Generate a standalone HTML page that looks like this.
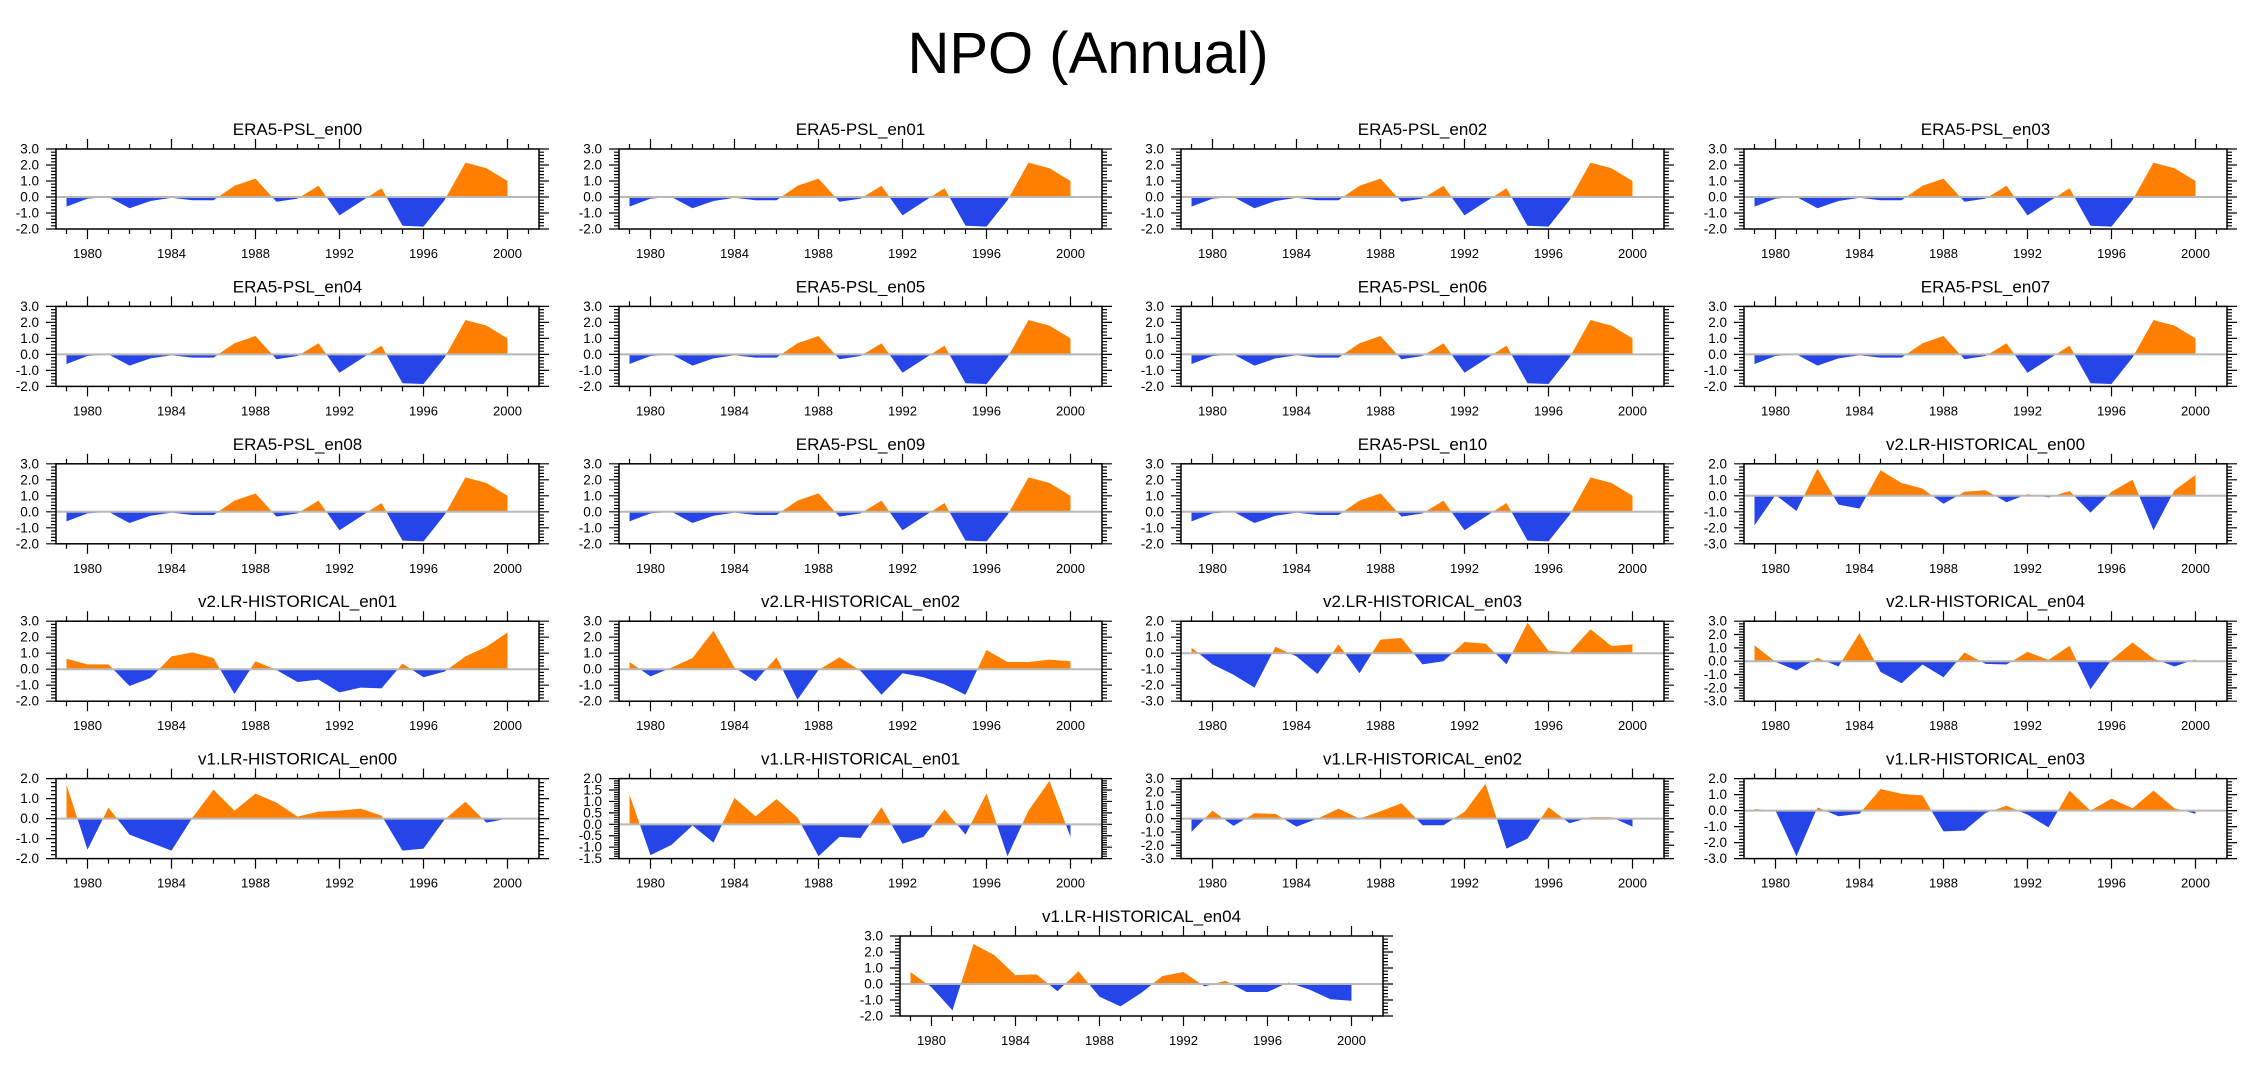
<!DOCTYPE html>
<html><head><meta charset="utf-8">
<style>
html,body{margin:0;padding:0;background:#fff;}
svg{display:block;font-family:"Liberation Sans",sans-serif;}
</style></head>
<body>
<svg id="chart" width="2252" height="1078" viewBox="0 0 2252 1078" xmlns="http://www.w3.org/2000/svg">
<text x="1088" y="73" font-size="58" text-anchor="middle" fill="#000">NPO (Annual)</text>
</svg>
<script>
const years = [1979,1980,1981,1982,1983,1984,1985,1986,1987,1988,1989,1990,1991,1992,1993,1994,1995,1996,1997,1998,1999,2000];
const era5 = [-0.6,-0.1,0.0,-0.7,-0.25,-0.05,-0.2,-0.2,0.7,1.15,-0.3,-0.1,0.7,-1.15,-0.3,0.55,-1.8,-1.85,-0.2,2.15,1.8,1.0];
const v2en00 = [-1.85,0.05,-0.95,1.7,-0.55,-0.8,1.6,0.8,0.45,-0.5,0.25,0.35,-0.4,0.1,-0.1,0.3,-1.05,0.25,1.0,-2.15,0.35,1.3];
const v2en01 = [0.65,0.3,0.3,-1.05,-0.55,0.8,1.05,0.7,-1.55,0.5,-0.05,-0.8,-0.65,-1.45,-1.15,-1.2,0.35,-0.5,-0.15,0.8,1.4,2.3];
const v2en02 = [0.45,-0.45,0.1,0.7,2.4,0.1,-0.75,0.75,-1.9,-0.05,0.75,-0.1,-1.6,-0.25,-0.5,-0.95,-1.6,1.2,0.45,0.45,0.6,0.5];
const v2en03 = [0.35,-0.7,-1.35,-2.15,0.4,-0.2,-1.3,0.55,-1.25,0.85,0.95,-0.7,-0.5,0.7,0.6,-0.7,1.9,0.15,0.05,1.5,0.45,0.55];
const v2en04 = [1.2,-0.05,-0.7,0.25,-0.4,2.1,-0.8,-1.65,-0.25,-1.2,0.65,-0.2,-0.25,0.7,0.1,1.15,-2.1,0.1,1.4,0.2,-0.4,0.15];
const v1en00 = [1.7,-1.55,0.55,-0.8,-1.2,-1.6,0.05,1.45,0.4,1.25,0.8,0.1,0.35,0.4,0.5,0.15,-1.6,-1.5,-0.05,0.85,-0.2,0.0];
const v1en01 = [1.3,-1.35,-0.9,-0.05,-0.8,1.15,0.35,1.1,0.3,-1.4,-0.55,-0.6,0.75,-0.85,-0.55,0.65,-0.45,1.35,-1.4,0.6,1.9,-0.55];
const v1en02 = [-1.0,0.6,-0.55,0.4,0.35,-0.6,0.0,0.75,0.0,0.55,1.15,-0.5,-0.5,0.5,2.6,-2.25,-1.5,0.85,-0.35,0.1,0.1,-0.6];
const v1en03 = [0.1,0.0,-2.85,0.2,-0.35,-0.2,1.35,1.05,0.95,-1.3,-1.25,-0.15,0.3,-0.25,-1.05,1.25,0.0,0.75,0.15,1.25,0.15,-0.2];
const v1en04 = [0.75,-0.2,-1.65,2.5,1.8,0.55,0.6,-0.45,0.8,-0.8,-1.4,-0.55,0.5,0.75,-0.15,0.2,-0.5,-0.5,0.1,-0.35,-0.95,-1.05];
const xTickYears = [1980,1984,1988,1992,1996,2000];

const panels = [
 ["ERA5-PSL_en00",era5,-2,3,1],["ERA5-PSL_en01",era5,-2,3,1],["ERA5-PSL_en02",era5,-2,3,1],["ERA5-PSL_en03",era5,-2,3,1],
 ["ERA5-PSL_en04",era5,-2,3,1],["ERA5-PSL_en05",era5,-2,3,1],["ERA5-PSL_en06",era5,-2,3,1],["ERA5-PSL_en07",era5,-2,3,1],
 ["ERA5-PSL_en08",era5,-2,3,1],["ERA5-PSL_en09",era5,-2,3,1],["ERA5-PSL_en10",era5,-2,3,1],["v2.LR-HISTORICAL_en00",v2en00,-3,2,1],
 ["v2.LR-HISTORICAL_en01",v2en01,-2,3,1],["v2.LR-HISTORICAL_en02",v2en02,-2,3,1],["v2.LR-HISTORICAL_en03",v2en03,-3,2,1],["v2.LR-HISTORICAL_en04",v2en04,-3,3,1],
 ["v1.LR-HISTORICAL_en00",v1en00,-2,2,1],["v1.LR-HISTORICAL_en01",v1en01,-1.5,2,0.5],["v1.LR-HISTORICAL_en02",v1en02,-3,3,1],["v1.LR-HISTORICAL_en03",v1en03,-3,2,1],
 ["v1.LR-HISTORICAL_en04",v1en04,-2,3,1]
];

const NS="http://www.w3.org/2000/svg";
const svg=document.getElementById('chart');
const colLeft=[56,619,1181,1744];
const PW=483, PH=80, X0=1978.5, X1=2001.5;
function mk(tag,attrs,parent){const e=document.createElementNS(NS,tag);for(const k in attrs)e.setAttribute(k,attrs[k]);parent.appendChild(e);return e;}

panels.forEach((p,i)=>{
  const [name,vals,ymin,ymax,step]=p;
  const row=Math.floor(i/4);
  const left = (i===20)?900:colLeft[i%4];
  const top = 149+157.4*row;
  const xs=y=>left+(y-X0)/(X1-X0)*PW;
  const ys=v=>top+(ymax-v)/(ymax-ymin)*PH;
  const g=mk('g',{},svg);
  
  
  const t=mk('text',{x:left+PW/2,y:top-14,'font-size':17,'text-anchor':'middle',fill:'#000'},g);
  t.textContent=name;
  
  
  const y0=ys(0);
  const cidA='ca'+i, cidB='cb'+i;
  const defs=mk('defs',{},g);
  const c1=mk('clipPath',{id:cidA},defs); mk('rect',{x:left,y:top,width:PW,height:y0-top},c1);
  const c2=mk('clipPath',{id:cidB},defs); mk('rect',{x:left,y:y0,width:PW,height:top+PH-y0},c2);
  let pts=years.map((yr,k)=>xs(yr).toFixed(2)+','+ys(vals[k]).toFixed(2));
  pts.push(xs(years[years.length-1]).toFixed(2)+','+y0.toFixed(2));
  pts.push(xs(years[0]).toFixed(2)+','+y0.toFixed(2));
  const pos=mk('polygon',{points:pts.join(' '),fill:'#ff8000','clip-path':'url(#'+cidA+')'},g);
  
  
  const neg=mk('polygon',{points:pts.join(' '),fill:'#2545e8','clip-path':'url(#'+cidB+')'},g);
  
  
  const zl=mk('line',{x1:left,x2:left+PW,y1:y0,y2:y0,stroke:'#b8b8b8','stroke-width':2},g);
  
  
  const fr=mk('rect',{x:left,y:top,width:PW,height:PH,fill:'none',stroke:'#000','stroke-width':1.5},g);
  
  
  let d='';
  for(let yr=1979;yr<=2001;yr++){
    const x=xs(yr), L=(yr%4===0)?10:5;
    d+=`M${x},${top+PH}v${L}M${x},${top}v${-L}`;
  }
  const minor=step/5; const n=Math.round((ymax-ymin)/minor);
  for(let k=0;k<=n;k++){
    const v=ymin+k*minor, y=ys(v), L=(k%5===0)?10:5;
    d+=`M${left},${y}h${-L}M${left+PW},${y}h${L}`;
  }
  mk('path',{d:d,stroke:'#000','stroke-width':1.2,fill:'none'},g);
  xTickYears.forEach(yr=>{
    const tl=mk('text',{x:xs(yr),y:top+PH+29,'font-size':13,'text-anchor':'middle',fill:'#000'},g);
    tl.textContent=yr;
    
    
  });
  const nm=Math.round((ymax-ymin)/step);
  for(let k=0;k<=nm;k++){
    const v=ymin+k*step;
    const tl=mk('text',{x:left-17,y:ys(v)+4.5,'font-size':13.5,'text-anchor':'end',fill:'#000'},g);
    tl.textContent=(Math.abs(v)<1e-9?0:v).toFixed(1);
    
    
  }
});
</script>
</body></html>
